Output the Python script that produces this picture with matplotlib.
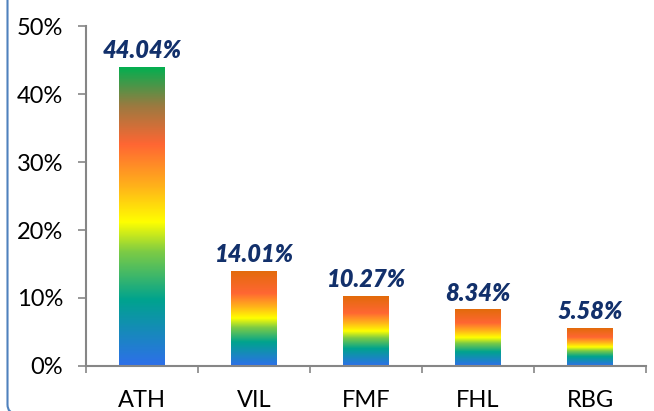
import numpy as np
import matplotlib.pyplot as plt
import matplotlib.ticker as mtick
from matplotlib.colors import LinearSegmentedColormap
from matplotlib.patches import FancyBboxPatch
from matplotlib.transforms import IdentityTransform

# Datos
categorias = ["ATH", "VIL", "FMF", "FHL", "RBG"]
valores = [44.04, 14.01, 10.27, 8.34, 5.58]
etiquetas = ["44.04%", "14.01%", "10.27%", "8.34%", "5.58%"]

# Degradados de las barras (de abajo hacia arriba)
grad_normal = LinearSegmentedColormap.from_list("normal", [
    (0.00, "#2E6FEA"), (0.25, "#00A38E"), (0.40, "#7CCB45"), (0.50, "#FFFF00"),
    (0.62, "#FFB21A"), (0.76, "#FF6633"), (1.00, "#E26B0A")])
grad_primero = LinearSegmentedColormap.from_list("primero", [
    (0.00, "#2E6FEA"), (0.22, "#00A38E"), (0.38, "#7CCB45"), (0.48, "#FFFF00"),
    (0.60, "#FFB21A"), (0.74, "#FF6633"), (0.87, "#9A7A40"), (1.00, "#00B050")])

plt.rcParams["font.family"] = ["Lato", "DejaVu Sans"]

fig = plt.figure(figsize=(6.54, 4.11), dpi=100)
ax = fig.add_axes([0.1315, 0.1095, 0.8563, 0.8272])

x = np.arange(len(categorias))
ancho = 0.41
barras = ax.bar(x, np.array(valores) / 100, width=ancho, color="none", zorder=2)

rampa = np.linspace(0, 1, 256).reshape(-1, 1)
for i, b in enumerate(barras):
    cmap = grad_primero if i == 0 else grad_normal
    x0, h = b.get_x(), b.get_height()
    im = ax.imshow(rampa, cmap=cmap, origin="lower", aspect="auto",
                   extent=[x0, x0 + ancho, 0, h], zorder=2)
    im.set_clip_path(b)
    ax.text(b.get_x() + ancho / 2, h + 0.007, etiquetas[i], ha="center", va="bottom",
            fontsize=17, fontweight="heavy", fontstyle="italic", color="#12306B")

ax.set_xlim(-0.5, len(categorias) - 0.5)
ax.set_ylim(0, 0.5)
ax.yaxis.set_major_formatter(mtick.PercentFormatter(1.0, decimals=0))
ax.set_xticks(x)
ax.set_xticklabels(categorias)
ax.set_xticks(np.arange(-0.5, len(categorias), 1), minor=True)
ax.tick_params(axis="x", which="major", length=0, pad=17, labelsize=17)
ax.tick_params(axis="x", which="minor", length=5, color="#868686", width=1.2)
ax.tick_params(axis="y", length=5.5, color="#868686", width=1.2, labelsize=17, pad=11)
for lado in ["top", "right"]:
    ax.spines[lado].set_visible(False)
for lado in ["left", "bottom"]:
    ax.spines[lado].set_color("#868686")
    ax.spines[lado].set_linewidth(1.5)

# Marco redondeado del gráfico
marco = FancyBboxPatch((7.5, -2.5), 800, 600, boxstyle="round,pad=0,rounding_size=9",
                       transform=IdentityTransform(), fill=False,
                       edgecolor="#4F81BD", linewidth=1.5)
fig.patches.append(marco)

plt.savefig("out.png", dpi=100)
